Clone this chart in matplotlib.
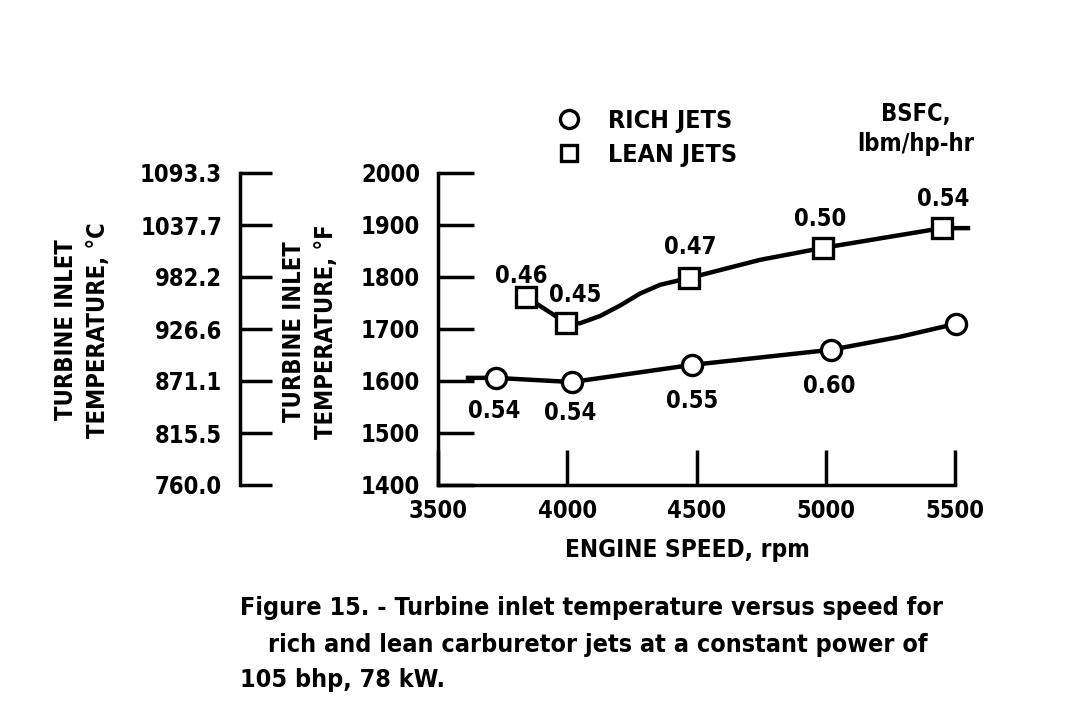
import matplotlib
matplotlib.use("Agg")
import matplotlib.pyplot as plt
from matplotlib.lines import Line2D

plt.rcParams['font.family'] = ['DejaVu Sans']
plt.rcParams['font.stretch'] = 'condensed'
plt.rcParams['font.weight'] = 'bold'

# data
rich_rpm = [3724, 4018, 4483, 5020, 5504]
rich_temp = [1606, 1598, 1631, 1660, 1710]
rich_bsfc = ['0.54', '0.54', '0.55', '0.60', '0.62']
rich_curve_rpm = [3616, 3724, 4018, 4483, 5020, 5287, 5504]
rich_curve_temp = [1606, 1606, 1598, 1631, 1660, 1685, 1710]

lean_rpm = [3840, 3995, 4471, 4989, 5450]
lean_temp = [1762, 1712, 1798, 1856, 1894]
lean_bsfc = ['0.46', '0.45', '0.47', '0.50', '0.54']
lean_curve_rpm = [3840, 3995, 4049, 4127, 4204, 4281, 4359, 4471, 4746, 4989, 5450, 5550]
lean_curve_temp = [1762, 1712, 1711, 1725, 1745, 1768, 1785, 1798, 1833, 1856, 1894, 1894]

f_ticks = [1400, 1500, 1600, 1700, 1800, 1900, 2000]
c_ticks = [760.0, 815.5, 871.1, 926.6, 982.2, 1037.7, 1093.3]
x_ticks = [3500, 4000, 4500, 5000, 5500]

rich_offsets = [(-1.5, -24), (-1, -22), (0, -26), (-1, -26), (1.5, -23)]
lean_offsets = [(-3, 15), (6.5, 20), (1, 22), (-2, 21), (1, 21)]

W, H = 1080, 726
fig = plt.figure(figsize=(10.8, 7.26), dpi=100)

def fx(px):
    return px / W

def fy(py):
    return 1 - py / H

FS = 17

# main axes (deg F)
ax = fig.add_axes([fx(438), fy(485), fx(955) - fx(438), fy(173) - fy(485)])
ax.set_xlim(3500, 5500)
ax.set_ylim(1400, 2000)
ax.spines['top'].set_visible(False)
ax.spines['right'].set_visible(False)
for s in ['left', 'bottom']:
    ax.spines[s].set_linewidth(2.5)
ax.set_xticks(x_ticks)
ax.set_yticks(f_ticks)
ax.tick_params(axis='y', direction='in', length=26, width=2.5, pad=13, labelsize=FS)
ax.tick_params(axis='x', direction='in', length=25, width=2.5, pad=10, labelsize=FS)
ax.patch.set_alpha(0)

ax.plot(rich_curve_rpm, rich_curve_temp, color='black', lw=3.2, clip_on=False, zorder=2)
ax.plot(lean_curve_rpm, lean_curve_temp, color='black', lw=3.2, clip_on=False, zorder=2)
ax.plot(rich_rpm, rich_temp, 'o', ms=14.5, mfc='white', mec='black', mew=2.4,
        clip_on=False, zorder=3)
ax.plot(lean_rpm, lean_temp, 's', ms=15, mfc='white', mec='black', mew=2.4,
        clip_on=False, zorder=3)

for x, y, t, off in zip(rich_rpm, rich_temp, rich_bsfc, rich_offsets):
    ax.annotate(t, (x, y), xytext=off, textcoords='offset points',
                ha='center', va='center', fontsize=FS)
for x, y, t, off in zip(lean_rpm, lean_temp, lean_bsfc, lean_offsets):
    ax.annotate(t, (x, y), xytext=off, textcoords='offset points',
                ha='center', va='center', fontsize=FS)

# deg C scale
axc = fig.add_axes([fx(240), fy(485), 0.04, fy(173) - fy(485)])
axc.set_ylim(c_ticks[0], c_ticks[-1])
axc.set_yticks(c_ticks)
axc.set_yticklabels(['%.1f' % c for c in c_ticks])
axc.set_xticks([])
for s in ['top', 'right', 'bottom']:
    axc.spines[s].set_visible(False)
axc.spines['left'].set_linewidth(2.5)
axc.tick_params(axis='y', direction='in', length=23, width=2.5, pad=13, labelsize=FS)
axc.patch.set_alpha(0)

# axis titles
fig.text(fx(82), fy(330), 'TURBINE INLET\nTEMPERATURE, °C', rotation=90,
         ha='center', va='center', fontsize=FS, linespacing=1.4)
fig.text(fx(310), fy(332), 'TURBINE INLET\nTEMPERATURE, °F', rotation=90,
         ha='center', va='center', fontsize=FS, linespacing=1.4)
fig.text(fx(687), fy(550), 'ENGINE SPEED, rpm', ha='center', va='center', fontsize=17.5)

# legend
handles = [Line2D([], [], ls='none', marker='o', ms=13, mfc='white', mec='black', mew=2.4),
           Line2D([], [], ls='none', marker='s', ms=12, mfc='white', mec='black', mew=2.4)]
fig.legend(handles, ['RICH JETS', 'LEAN JETS'], loc='center left',
           bbox_to_anchor=(fx(541), fy(138)), frameon=False, fontsize=18,
           handlelength=1.2, handletextpad=1.0, labelspacing=0.4, borderpad=0)

fig.text(fx(916), fy(129), 'BSFC,\nlbm/hp-hr', ha='center', va='center',
         fontsize=FS, linespacing=1.35, multialignment='center')

# caption
fig.text(fx(240), fy(608), 'Figure 15. - Turbine inlet temperature versus speed for',
         ha='left', va='center', fontsize=18)
fig.text(fx(268), fy(645), 'rich and lean carburetor jets at a constant power of',
         ha='left', va='center', fontsize=18)
fig.text(fx(240), fy(680), '105 bhp, 78 kW.', ha='left', va='center', fontsize=18)

fig.savefig('out.png', dpi=100)
